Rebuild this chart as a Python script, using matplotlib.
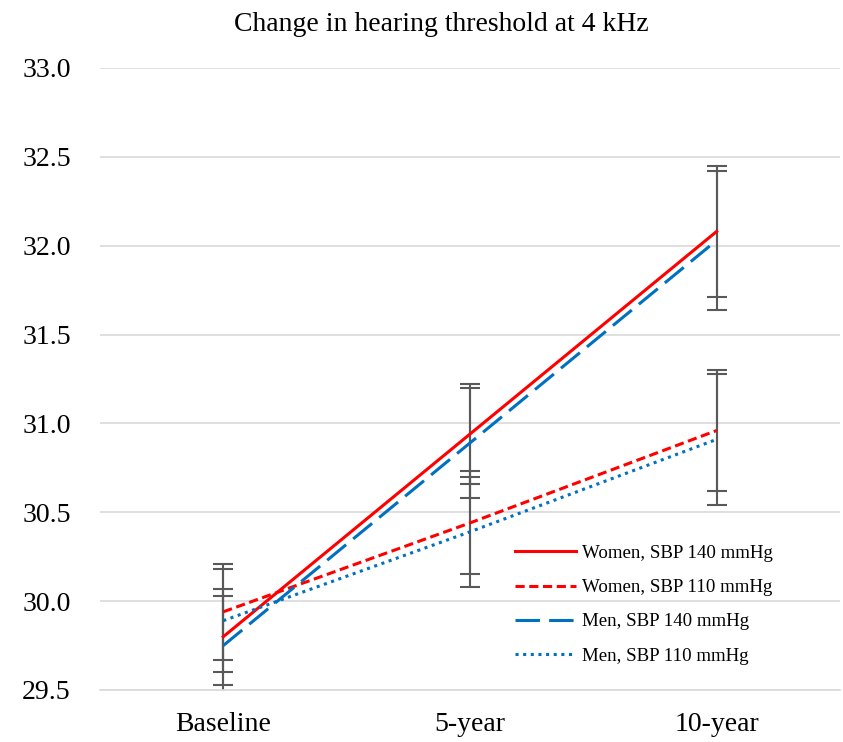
import matplotlib.pyplot as plt
import numpy as np

plt.rcParams['font.family'] = ['Liberation Serif', 'DejaVu Serif']

timepoints = ["Baseline", "5-year", "10-year"]
women_140 = [29.80, 30.94, 32.08]
women_110 = [29.94, 30.44, 30.96]
men_140 = [29.75, 30.89, 32.03]
men_110 = [29.89, 30.39, 30.91]
women_140_err = [0.27, 0.28, 0.37]
women_110_err = [0.27, 0.29, 0.34]
men_140_err = [0.28, 0.31, 0.39]
men_110_err = [0.29, 0.31, 0.37]

fig = plt.figure(figsize=(8.43, 7.42), dpi=100)
ax = fig.add_axes([0.1186, 0.0701, 0.8778, 0.8383])

x = np.arange(len(timepoints))
series = [
    (women_140, women_140_err, "Women, SBP 140 mmHg", "#FF0000", "-"),
    (women_110, women_110_err, "Women, SBP 110 mmHg", "#FF0000", (0, (3, 1.5))),
    (men_140, men_140_err, "Men, SBP 140 mmHg", "#0070C0", (0, (8, 3))),
    (men_110, men_110_err, "Men, SBP 110 mmHg", "#0070C0", (0, (1, 1.5))),
]
for vals, err, label, color, ls in series:
    ax.errorbar(x, vals, yerr=err, fmt='none', ecolor="#595959",
                elinewidth=1.5, capsize=7, capthick=1.5, zorder=2)
for vals, err, label, color, ls in series:
    ax.plot(x, vals, color=color, linestyle=ls, linewidth=2.2, label=label, zorder=3)

ax.set_xlim(-0.5, 2.5)
ax.set_ylim(29.5, 33.0)
ax.set_yticks(np.arange(29.5, 33.01, 0.5))
ax.yaxis.set_major_formatter(plt.FormatStrFormatter('%.1f'))
ax.set_xticks(x)
ax.set_xticklabels(timepoints)
ax.tick_params(axis='both', length=0, colors='#000000')
ax.tick_params(axis='x', labelsize=20, pad=16)
ax.tick_params(axis='y', labelsize=20, pad=21)
ax.grid(axis='y', color='#D9D9D9', linewidth=1.2)
ax.set_axisbelow(True)
for s in ['top', 'right', 'left']:
    ax.spines[s].set_visible(False)
ax.spines['bottom'].set_color('#D9D9D9')
ax.spines['bottom'].set_linewidth(1.2)

fig.text(0.524, 0.967, "Change in hearing threshold at 4 kHz", fontsize=20,
         ha='center', va='center')

ax.legend(loc='center left', bbox_to_anchor=(0.538, 0.137), frameon=False,
          fontsize=13.6, handlelength=3.2, labelspacing=0.9, handletextpad=0.35)

fig.savefig("out.png", dpi=100)
